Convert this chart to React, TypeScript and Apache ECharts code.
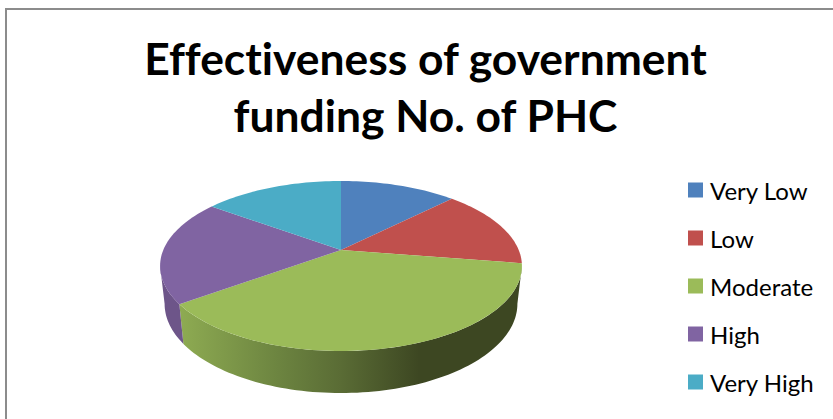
import React, { useEffect, useRef } from "react";
import * as echarts from "echarts";

const titleLines = ["Effectiveness of government", "funding No. of PHC"];
const categories = ["Very Low", "Low", "Moderate", "High", "Very High"];
const phcCounts = [5, 6, 15, 8, 6];
const faceColors = ["#4F81BD", "#C0504D", "#9BBB59", "#8064A2", "#4BACC6"];

// Perspective disc: the apex sits above the centre of the projected rim.
const CX = 341;
const APEX_Y = 250;
const SCALE_X = 177.7;
const SCALE_Y = 82;
const TILT = -0.188;
// The lower rim lies further from the eye, so it is narrower but opens wider.
const LOWER_Y = 287;
const LOWER_SCALE_X = 0.975;
const LOWER_SCALE_Y = 1.05;
// Angles where the rim turns back: only the wall between them faces the viewer.
const WALL_FROM = (Math.acos(TILT) * 180) / Math.PI;
const WALL_TO = 360 - WALL_FROM;

type Pt = [number, number];

function project(deg: number, lower: boolean): Pt {
  const t = (deg * Math.PI) / 180;
  const gx = Math.sin(t);
  const gy = -Math.cos(t);
  const w = 1 + TILT * gy;
  const dx = (SCALE_X * gx) / w;
  const dy = (SCALE_Y * gy) / w;
  return lower
    ? [CX + dx * LOWER_SCALE_X, LOWER_Y + dy * LOWER_SCALE_Y]
    : [CX + dx, APEX_Y + dy];
}

function arcPoints(from: number, to: number, lower: boolean): Pt[] {
  const steps = Math.max(2, Math.ceil((to - from) / 1.5));
  const pts: Pt[] = [];
  for (let i = 0; i <= steps; i++) pts.push(project(from + ((to - from) * i) / steps, lower));
  return pts;
}

function wallFill(index: number) {
  if (index === 2) {
    return new echarts.graphic.LinearGradient(0, 0, 1, 0, [
      { offset: 0, color: "#8EAB52" },
      { offset: 0.29, color: "#6C8440" },
      { offset: 0.47, color: "#5A6C35" },
      { offset: 0.7, color: "#3D4722" },
      { offset: 1, color: "#3D4722" },
    ]);
  }
  return "#6D5589";
}

export default function App() {
  const ref = useRef<HTMLDivElement>(null);

  useEffect(() => {
    document.body.style.margin = "0";
    const chart = echarts.init(ref.current!, undefined, { renderer: "svg" });
    const total = phcCounts.reduce((a, b) => a + b, 0);

    const renderSlice = (index: number) => (_params: unknown, api: any) => {
      const before = phcCounts.slice(0, index).reduce((a, b) => a + b, 0);
      const from = (before / total) * 360;
      const to = from + (api.value(0) / total) * 360;
      const children: any[] = [];
      const wallStart = Math.max(from, WALL_FROM);
      const wallEnd = Math.min(to, WALL_TO);
      if (wallEnd > wallStart) {
        children.push({
          type: "polygon",
          z2: 1,
          shape: {
            points: [
              ...arcPoints(wallStart, wallEnd, false),
              ...arcPoints(wallStart, wallEnd, true).reverse(),
            ],
          },
          style: { fill: wallFill(index) },
        });
      }
      children.push({
        type: "polygon",
        z2: 10,
        shape: { points: [[CX, APEX_Y], ...arcPoints(from, to, false)] },
        style: { fill: faceColors[index] },
      });
      return { type: "group", children };
    };

    chart.setOption({
      animation: false,
      backgroundColor: "#ffffff",
      title: {
        text: titleLines.join("\n"),
        left: 425.5,
        top: 29,
        padding: 0,
        textAlign: "center",
        textStyle: {
          fontFamily: "Lato",
          fontWeight: "bold",
          fontSize: 44.4,
          lineHeight: 57,
          color: "#000000",
        },
      },
      legend: {
        orient: "vertical",
        left: 688,
        top: 178,
        padding: 0,
        itemWidth: 15,
        itemHeight: 15,
        itemGap: 24,
        icon: "rect",
        data: categories,
        textStyle: { fontFamily: "Lato", fontSize: 24, color: "#000000", padding: [0, 0, 0, 2] },
      },
      graphic: [
        {
          type: "rect",
          silent: true,
          shape: { x: 6, y: 9, width: 900, height: 500 },
          style: { fill: "none", stroke: "#8C8C8C", lineWidth: 2 },
        },
      ],
      series: categories.map((name, i) => ({
        type: "custom",
        name,
        coordinateSystem: "none",
        itemStyle: { color: faceColors[i] },
        data: [[phcCounts[i]]],
        renderItem: renderSlice(i),
      })),
    });
    return () => chart.dispose();
  }, []);

  return (
    <div
      ref={ref}
      style={{
        position: "fixed",
        left: 0,
        top: 0,
        width: 833,
        height: 419,
        fontVariantLigatures: "none",
      }}
    />
  );
}
